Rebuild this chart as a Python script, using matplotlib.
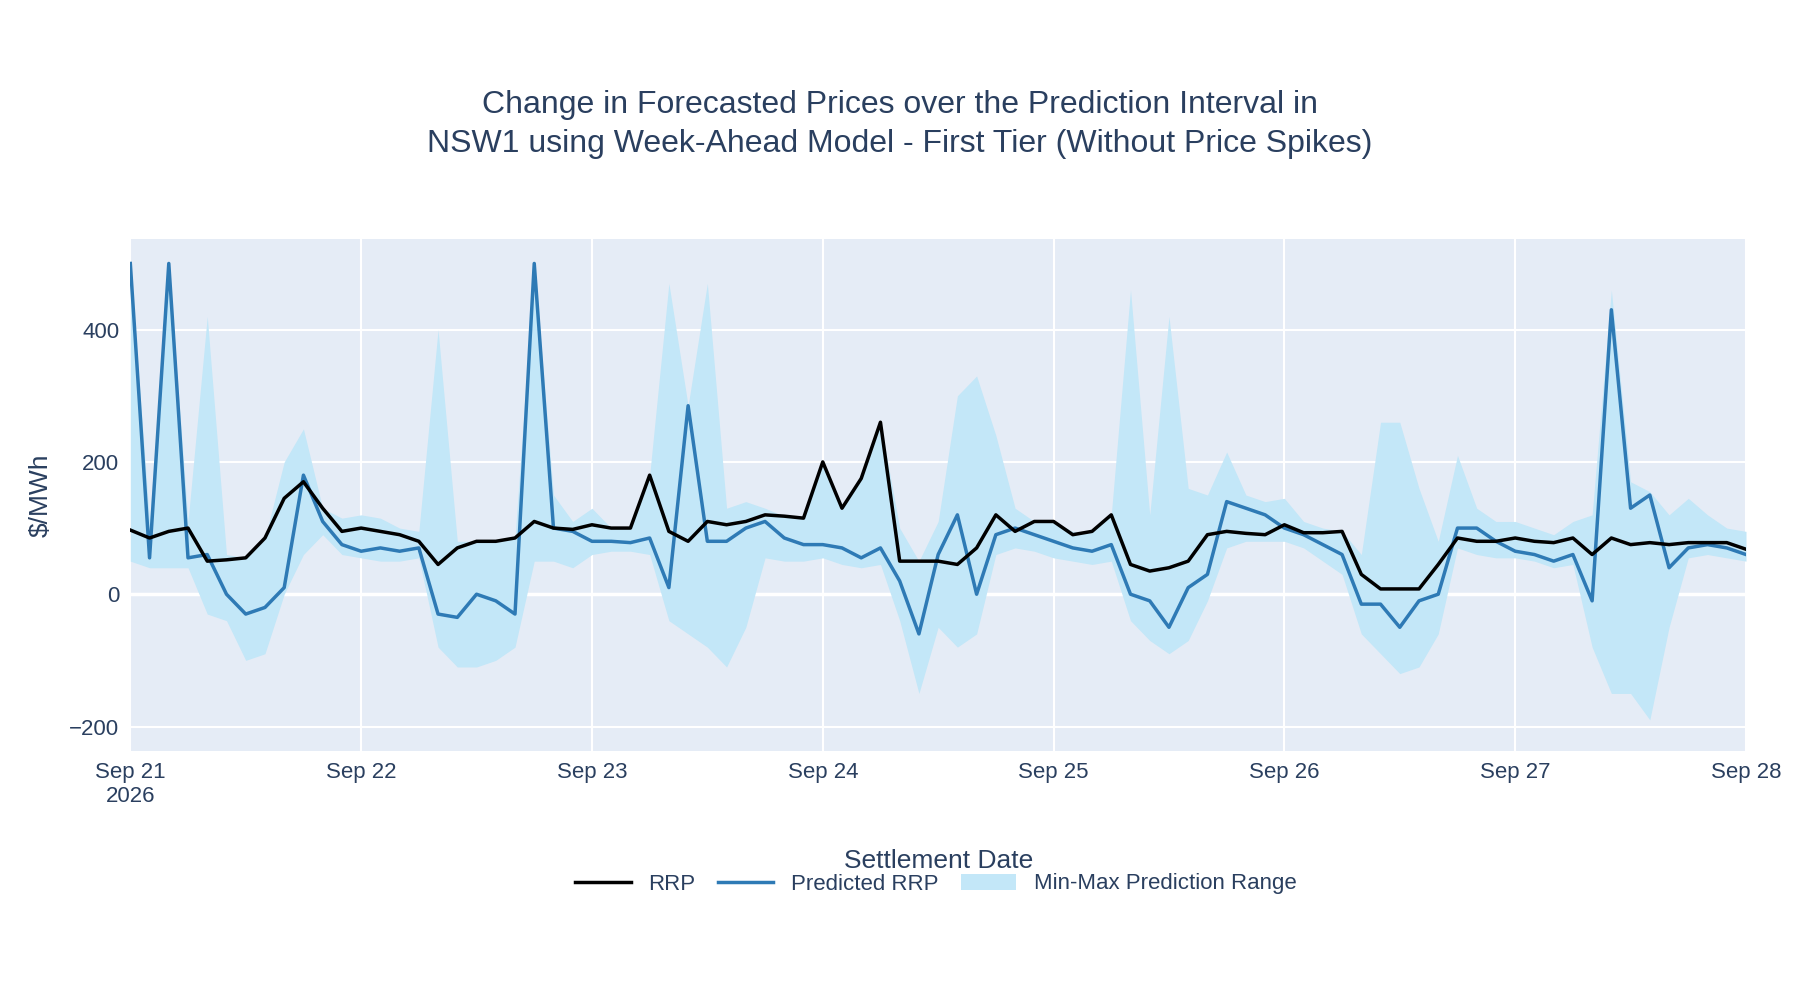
import matplotlib
matplotlib.use("Agg")
import matplotlib.pyplot as plt
import numpy as np
import pandas as pd

plt.rcParams['font.family'] = ['Liberation Sans', 'DejaVu Sans']

start = pd.Timestamp("2026-09-21")
times = pd.date_range(start, periods=85, freq="2h")

rrp = [97,85,95,100,50,52,55,85,145,170,130,95,
       100,95,90,80,45,70,80,80,85,110,100,98,
       105,100,100,180,95,80,110,105,110,120,118,115,
       200,130,175,260,50,50,50,45,70,120,95,110,
       110,90,95,120,45,35,40,50,90,95,92,90,
       105,93,93,95,30,8,8,8,45,85,80,80,
       85,80,78,85,60,85,75,78,75,78,78,78,68]
pred = [500,55,500,55,60,0,-30,-20,10,180,110,75,
        65,70,65,70,-30,-35,0,-10,-30,500,100,95,
        80,80,78,85,10,285,80,80,100,110,85,75,
        75,70,55,70,20,-60,60,120,0,90,100,90,
        80,70,65,75,0,-10,-50,10,30,140,130,120,
        100,90,75,60,-15,-15,-50,-10,0,100,100,80,
        65,60,50,60,-10,430,130,150,40,70,75,70,60]
band_max = [500,110,500,110,420,60,20,60,200,250,130,115,
            120,115,100,95,400,80,80,60,80,500,150,110,
            130,95,90,110,470,200,470,130,140,130,110,100,
            110,100,95,110,100,50,110,300,330,240,130,110,
            100,95,90,100,460,120,420,160,150,215,150,140,
            145,110,100,80,60,260,260,160,80,210,130,110,
            110,100,90,110,120,460,170,155,120,145,120,100,95]
band_min = [50,40,40,40,-30,-40,-100,-90,0,60,90,60,
            55,50,50,55,-80,-110,-110,-100,-80,50,50,40,
            60,65,65,60,-40,-60,-80,-110,-50,55,50,50,
            55,45,40,45,-40,-150,-50,-80,-60,60,70,65,
            55,50,45,50,-40,-70,-90,-70,-10,70,80,80,
            80,70,50,30,-60,-90,-120,-110,-60,70,60,55,
            55,50,40,45,-80,-150,-150,-190,-50,55,60,55,50]
band_min = np.minimum(band_min, np.minimum(pred, rrp))
band_max = np.maximum(band_max, np.maximum(pred, rrp))

tick_dates = pd.date_range(start, periods=8, freq="D")
tick_labels = ["Sep 21\n2026", "Sep 22", "Sep 23", "Sep 24", "Sep 25", "Sep 26", "Sep 27", "Sep 28"]

txt = "#2a3f5f"
fig = plt.figure(figsize=(18, 10), dpi=100)
ax = fig.add_axes([0.0724, 0.249, 0.8976, 0.512])
ax.set_facecolor("#E5ECF6")
ax.fill_between(times, band_min, band_max, color="#C3E7F8", lw=0, label="Min-Max Prediction Range")
ax.plot(times, pred, color="#2E7AB5", lw=2.5, label="Predicted RRP")
ax.plot(times, rrp, color="black", lw=2.5, label="RRP")
ax.set_xlim(times[0], times[-1])
ax.set_ylim(-237, 537)
ax.set_yticks([-200, 0, 200, 400])
ax.set_yticklabels(["\u2212200", "0", "200", "400"])
ax.set_xticks(tick_dates)
ax.set_xticklabels(tick_labels)
ax.grid(color="white", lw=1.5)
ax.axhline(0, color="white", lw=2.5, zorder=0.5)
ax.set_axisbelow(True)
for s in ax.spines.values():
    s.set_visible(False)
ax.tick_params(length=0, labelsize=16, colors=txt, pad=8)
ax.set_ylabel("$/MWh", fontsize=19, color=txt, labelpad=12)
ax.set_xlabel("Settlement Date", fontsize=19, color=txt, labelpad=30)
fig.suptitle("Change in Forecasted Prices over the Prediction Interval in\nNSW1 using Week-Ahead Model - First Tier (Without Price Spikes)",
             y=0.91, fontsize=23, color=txt, linespacing=1.4)
h, l = ax.get_legend_handles_labels()
order = [2, 1, 0]
leg = fig.legend([h[i] for i in order], [l[i] for i in order], loc="center", bbox_to_anchor=(0.52, 0.116),
                 ncol=3, frameon=False, fontsize=16, handlelength=2.5, columnspacing=1.0)
for t in leg.get_texts():
    t.set_color(txt)
fig.savefig("out.png", dpi=100, facecolor="white")
